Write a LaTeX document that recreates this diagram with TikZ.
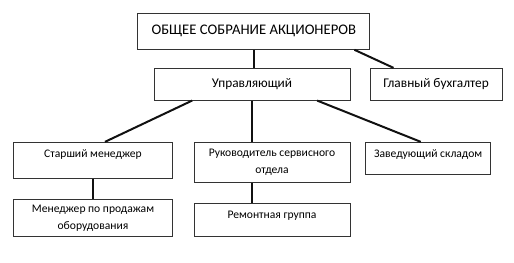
\documentclass[tikz,border=0pt]{standalone}
\usepackage{fontspec}
\setmainfont{Carlito}
\usepackage{tikz}
\usetikzlibrary{calc,positioning}
\definecolor{frame}{HTML}{333333}
\definecolor{wire}{HTML}{111111}
\tikzset{
  box/.style={draw=frame,line width=0.75pt,inner xsep=2pt,inner ysep=3pt,align=center,
    font=\fontsize{8.7}{12.7}\selectfont},
  link/.style={draw=wire,line width=1.5pt},
}

\begin{document}
\begin{tikzpicture}[x=0.75pt,y=-0.75pt]
  \useasboundingbox (0,0) rectangle (514,262);
  % top level
  \node[box,minimum width=174.2pt,minimum height=27pt,font=\fontsize{11}{13}\selectfont] (meeting) at (253.8,31.3) {ОБЩЕЕ СОБРАНИЕ АКЦИОНЕРОВ};
  \node[box,minimum width=147pt,minimum height=23.8pt,font=\fontsize{10}{12}\selectfont] (manager) at (252,84.2) {Управляющий};
  \node[box,minimum width=99pt,minimum height=23.8pt,font=\fontsize{10}{12}\selectfont] (chief) at (436,84.2) {Главный бухгалтер};
  % departments
  \node[box,minimum width=119.5pt,text height=8pt,text depth=12.8pt] (senior) at (93,160.2) {Старший менеджер};
  \node[box,minimum width=117pt,minimum height=30pt] (service) at (272,162.3) {Руководитель сервисного\\отдела};
  \node[box,minimum width=93.8pt,text height=8pt,text depth=9.8pt] (store) at (428.2,158.2) {Заведующий складом};
  \node[box,minimum width=119.5pt,minimum height=28.3pt] (sales) at (93,217.9) {Менеджер по продажам\\оборудования};
  \node[box,minimum width=117pt,text height=8.5pt,text depth=10.5pt] (repair) at (272,220) {Ремонтная группа};
  % links
  \draw[link] (meeting.south) -- (meeting.south |- manager.north);
  \draw[link] ([xshift=-12pt]meeting.south east) -- ([xshift=18pt]chief.north west);
  \draw[link] ([xshift=29pt]manager.south west) -- ([xshift=9pt]senior.north);
  \draw[link] (manager.south) -- (manager.south |- service.north);
  \draw[link] ([xshift=-25pt]manager.south east) -- ([xshift=-5.6pt]store.north);
  \draw[link] (senior.south) -- (sales.north);
  \draw[link] (service.south -| manager.south) -- (repair.north -| manager.south);
\end{tikzpicture}
\end{document}
